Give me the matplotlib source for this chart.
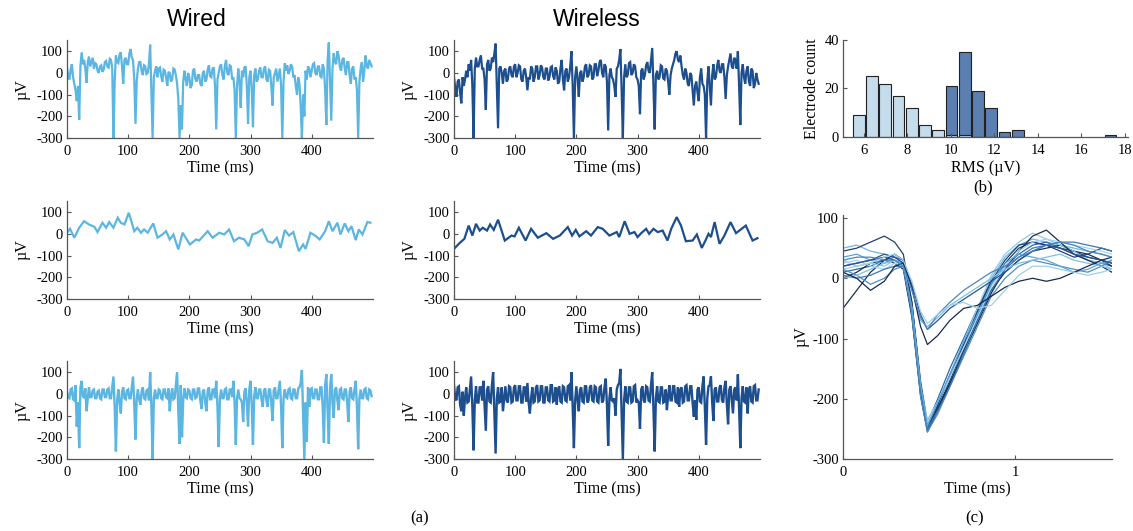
import matplotlib
matplotlib.use('Agg')
import matplotlib.pyplot as plt
import numpy as np

plt.rcParams['font.family'] = ['Liberation Serif', 'DejaVu Serif']
plt.rcParams['font.size'] = 10.5
plt.rcParams['axes.unicode_minus'] = False

# time grid of the 500 ms traces (2 ms per point)
t_raw = np.arange(0, 500, 2)

# raw traces (row 1)
wired_raw = [25, -10, -30, 15, 40, -20, -50, -80, -130, -60, -215, 30, 95, 40, 60, 20, -45, 50, 75, 30,
             50, 70, 20, 45, 40, 10, 0, 30, 35, 5, 15, 50, 55, 30, 25, 65, 60, 20, -300, -40,
             80, 50, 45, 85, 95, 30, -50, 60, 70, 40, 40, 90, 110, 70, 60, -30, -235, -40, 20, 50,
             50, 10, -10, 35, 30, -5, 0, 40, 130, -80, -300, -20, 10, 30, -20, 20, 25, -15, -40, 15,
             10, -20, -60, 5, 0, -40, -30, 20, 15, -10, -50, -120, -300, -150, -260, -40, 10, -30, -60, 0,
             -20, -70, -55, 10, 20, -30, -40, -10, -10, -50, -60, 0, 10, -40, -30, 15, 35, -15, -20, 20,
             25, -60, -260, -30, 0, 30, 40, -10, -30, 30, 60, 0, -10, 35, 30, -30, -20, -80, -300, -60,
             20, -40, -160, 10, -20, 25, 30, -60, -235, -20, 10, -70, -250, -10, 20, -40, -30, 10, 25, -20,
             -20, 20, 30, -30, -40, 15, 10, -60, -150, -20, 0, 20, -40, -10, 20, -60, -300, -40, 45, 10,
             35, -5, 10, 40, 30, -20, -10, -60, -100, -20, -50, -150, -300, -100, -200, 10, -30, 30, 20, -20,
             10, 40, 45, 0, -10, 30, 30, -15, -20, 40, 20, -80, -240, 60, 140, -40, -220, 20, 90, 50,
             40, 100, 80, 30, 10, 60, 70, 20, -10, 50, 50, -10, -50, 20, 30, -30, -20, -80, -300, -40,
             20, 50, -40, 10, 80, 30, 20, 60, 45, 30]
wireless_raw = [-20, -70, -110, -40, -30, -90, -140, -20, -60, -30, 10, -20, 40, 10, 60, -60, -300, 20, 70, 30,
                30, 60, 80, 20, 20, -30, -170, 40, 60, 10, 20, 70, 50, 90, 135, -60, -255, 20, 30, 0,
                -50, 10, 20, -40, -30, 20, 30, -10, -20, 30, 40, -20, 0, 35, 30, -30, -40, 10, 20, -20,
                -80, -20, -30, 30, 20, -40, -20, 30, 30, -30, -10, 35, 25, -20, -30, 20, 20, -35, -20, 25,
                30, -15, -30, 25, 10, -50, -40, 20, 60, -30, -80, 10, 20, -40, -20, 30, 100, -60, -300, -20,
                30, -30, -110, 0, 10, -40, -20, 30, 40, -20, -10, 35, 30, -30, -20, 40, 40, -15, 10, 50,
                60, 0, -20, 40, 30, -40, -265, -10, 20, -20, -30, -60, -110, 20, 30, 60, 110, -80, -300, -20,
                40, -20, -10, 45, 50, -10, 0, 40, 30, -20, -30, -60, -190, 10, 20, -30, -10, 35, 50, 10,
                0, 60, 115, -60, -260, -10, 10, -30, -20, 35, 30, -25, -30, 20, 10, -40, -100, -10, 20, 40,
                60, 90, 100, 60, 50, 80, 30, -10, -30, 20, 0, -50, -60, 0, -10, -80, -150, -60, -40, -90,
                -130, -20, 20, -50, -60, -100, -300, -40, 30, -60, -150, -10, 40, -30, -20, 30, 60, 10, 0, 40,
                40, -20, -120, -10, 30, 60, 90, 30, 20, 70, 60, 20, 100, -60, -240, 0, 40, -20, -50, 10,
                30, -40, -60, 20, 10, -70, -50, 0, -30, -50]

# low-pass traces (row 2), read at irregular times
t_lfp_wired = [0, 5, 12, 20, 28, 36, 45, 50, 58, 64, 69, 76, 83, 88, 94, 101, 106, 110,
               115, 121, 126, 132, 141, 148, 156, 162, 168, 174, 182, 189, 201, 211, 216,
               230, 238, 249, 257, 265, 273, 281, 290, 297, 303, 311, 319, 328, 336, 343,
               349, 356, 363, 370, 379, 386, 390, 398, 407, 413, 422, 428, 434, 442, 447,
               454, 460, 465, 472, 477, 483, 491, 496]
lfp_wired = [5, 23, -18, 28, 58, 43, 32, 8, 51, 28, 54, 28, 74, 51, 43, 97, 51, 12,
             28, 5, 20, 5, 48, -18, -3, 12, -26, -3, -72, 5, -49, -26, -31,
             12, -18, 5, -3, 20, -34, -18, -26, -57, -3, 5, 20, -34, -42, -18,
             -65, 17, -8, 8, -80, -49, -69, 5, -11, -26, 12, 58, 12, 51, -3,
             48, 12, 35, -29, 20, -3, 54, 51]
t_lfp_wireless = [0, 9, 17, 24, 30, 36, 42, 47, 54, 59, 65, 72, 83, 94, 99, 106, 117, 126,
                  137, 151, 162, 173, 186, 193, 199, 205, 216, 224, 235, 243, 254, 266, 270,
                  279, 287, 295, 300, 306, 314, 319, 326, 333, 341, 349, 355, 364, 371, 379,
                  390, 397, 405, 411, 416, 420, 426, 434, 442, 452, 461, 477, 488, 496]
lfp_wireless = [-69, -43, -23, 38, -8, 46, 15, 28, 15, 43, 18, 65, -31, -8, -12, 28, -31, 23,
                -18, 3, -23, -8, 31, -8, 18, -12, 12, -8, 31, 23, -8, 8, -15,
                58, 0, 8, -15, 3, 23, 0, 23, 8, 15, -31, 23, 77, 38, -34,
                -31, -3, -65, -31, 0, -15, 54, -46, -8, 54, 3, 38, -31, -20]

# high-pass traces (row 3)
wired_hp = [10, -15, -20, 20, 25, -25, -30, 40, -150, -40, -250, 30, 60, -10, -20, 25, -80, -20, 30, -15,
            -15, 15, 20, -20, -20, 10, 15, -20, -25, 20, 20, -15, -15, 20, 25, -20, -20, 30, 80, -60,
            -265, -30, 20, -40, -90, 10, 30, -20, -25, 15, 20, -20, -20, 30, 80, -50, -210, -20, 20, -25,
            -50, 10, 30, -20, -25, 15, 20, -30, 100, -60, -300, -20, 20, -20, -20, 20, 15, -20, -25, 20,
            20, -15, -20, 25, -80, -10, 25, -25, -20, 40, 100, -80, -230, 40, -200, -30, 25, -15, -20, 20,
            15, -20, -25, 20, 20, -20, -15, 25, 25, -30, -70, 10, 20, -40, -80, 15, 30, -25, -25, 20,
            20, -20, 60, -60, -245, -20, 20, -20, -20, 20, 25, -25, -25, 20, 20, -15, 60, -40, -235, -20,
            20, -20, -25, -40, -130, 10, 25, -40, -150, 20, 60, -50, -235, -10, 30, -20, -20, 20, 20, -25,
            -60, 15, 25, -30, -60, 20, 20, -40, -125, 15, 30, -20, -20, 20, 60, -60, -250, -20, 20, -15,
            -20, 20, 25, -20, -25, 20, 20, -20, -20, 25, 30, 50, 110, -100, -300, -40, -220, 30, -60, 20,
            25, -20, -20, 20, 20, -25, -25, 30, 30, -60, -225, 40, 90, -80, -230, 30, 90, -40, -110, 20,
            30, -30, -75, 20, 25, -20, -25, 20, 20, -40, -130, 10, 30, -20, -25, 20, 60, -60, -255, -20,
            20, -20, -20, 20, 25, -20, -25, 20, 15, -10]
wireless_hp = [40, -20, -30, 30, 35, -50, -80, 10, -100, -20, 30, -40, -35, 20, 80, -60, -260, -30, 35, -40,
               -40, 30, 30, -30, 60, -50, -170, 20, 35, -35, -40, 40, 100, -80, -275, -20, 30, -40, -35, 30,
               -80, -20, 35, -30, -40, 35, 30, -40, -35, 30, 40, -30, -30, 35, 35, -40, -40, 30, 30, -35,
               50, -40, -90, -20, 30, -40, -35, 30, 40, -35, -30, 35, 35, -40, -40, 30, 30, -30, -35, 40,
               40, -35, -30, 30, -50, 20, 35, -35, -40, 35, 30, -30, -35, 35, 40, -30, 100, -60, -250, -30,
               35, -30, -80, 20, 30, -35, -40, 35, 35, -40, -30, 30, 40, -30, -35, 35, 30, -35, -40, 30,
               35, -40, -30, 30, 70, -50, -240, -20, 30, -30, -35, -20, -100, 20, 40, 50, 115, -90, -300, -30,
               35, -35, -40, 30, 30, -40, -35, 35, 40, -40, -30, -40, -160, 20, 35, -30, -40, 35, 30, -30,
               -35, 40, 100, -70, -265, -20, 35, -35, -40, 30, 30, -40, -35, 20, -75, -10, 40, -30, -30, 35,
               35, -35, -40, 30, -60, 20, 30, -40, -35, 35, 40, -30, -30, 35, 35, -40, -105, -30, -120, 20,
               30, -35, -40, 35, 80, -60, -235, -20, 35, 40, 80, -40, -125, 20, 30, -35, -35, 30, 40, -30,
               -40, 30, 60, -50, -140, 20, 35, -30, -90, 20, 30, -30, 90, -70, -250, -20, 35, -35, -40, 30,
               -90, 20, 35, -35, -40, 35, 40, -30, -30, 20]

for arr in (wired_raw, wireless_raw, wired_hp, wireless_hp):
    assert len(arr) == len(t_raw), len(arr)

# RMS histogram (b)
rms_bins = [5.77, 6.37, 6.98, 7.59, 8.2, 8.81, 9.42, 10.03, 10.64, 11.25, 11.86,
            12.47, 13.08, 17.35]
count_wired = [9, 25, 22, 17, 12, 5, 3, 1, 1, 0, 0, 0, 0, 0]
count_wireless = [0, 0, 0, 0, 0, 0, 0, 21, 35, 19, 12, 2, 3, 1]

# spike waveforms (c)
t_wf = [0, 0.08, 0.16, 0.24, 0.30, 0.35, 0.40, 0.45, 0.49, 0.55, 0.62, 0.70,
        0.78, 0.86, 0.94, 1.02, 1.10, 1.18, 1.26, 1.34, 1.42, 1.50, 1.56]
waveforms = [
    [20, 25, 30, 35, 30, 20, -60, -190, -250, -215, -170, -115, -60, -10, 25, 50, 60, 55, 50, 45, 35, 30, 25],
    [50, 55, 45, 40, 35, 25, -50, -180, -245, -210, -165, -110, -55, 0, 35, 55, 65, 60, 55, 50, 45, 40, 35],
    [10, 15, 20, 30, 35, 30, -40, -170, -240, -200, -150, -100, -50, -5, 20, 40, 55, 60, 50, 40, 30, 25, 20],
    [0, 10, 25, 30, 25, 15, -65, -195, -255, -220, -175, -120, -70, -20, 10, 30, 45, 50, 55, 45, 40, 30, 20],
    [30, 20, 25, 20, 30, 25, -55, -185, -235, -205, -160, -105, -50, 5, 40, 60, 75, 65, 55, 45, 30, 25, 15],
    [-50, -20, 10, 30, 40, 30, -45, -175, -245, -215, -175, -125, -75, -25, 15, 45, 70, 80, 60, 40, 30, 20, 10],
    [45, 50, 60, 70, 60, 40, -40, -180, -250, -210, -160, -110, -55, -5, 30, 55, 60, 55, 45, 35, 40, 50, 45],
    [15, 5, -10, 0, 15, 20, -60, -195, -255, -225, -180, -130, -80, -30, 0, 20, 30, 25, 20, 15, 10, 20, 30],
    [25, 30, 20, 15, 25, 20, -50, -180, -240, -205, -165, -115, -65, -15, 20, 45, 60, 65, 60, 55, 50, 45, 40],
    [5, 0, 5, 15, 20, 20, -55, -185, -250, -220, -180, -125, -70, -20, 15, 35, 50, 55, 60, 60, 55, 50, 45],
    [35, 40, 30, 25, 30, 25, -50, -175, -245, -205, -160, -105, -60, -10, 25, 40, 35, 30, 20, 10, 15, 25, 30],
    [20, 25, 30, 40, 35, 25, -10, -60, -85, -70, -50, -35, -20, -5, 10, 30, 45, 55, 50, 40, 35, 30, 25],
    [0, 5, 15, 25, 30, 20, -20, -70, -80, -65, -45, -30, -15, 0, 15, 25, 30, 35, 40, 30, 25, 20, 15],
    [10, 0, -20, -5, 20, 25, -15, -80, -110, -95, -70, -50, -45, -30, -15, -5, 0, -5, 0, 10, 20, 30, 35],
    [30, 35, 35, 30, 30, 20, -20, -65, -85, -60, -40, -20, -5, 10, 20, 35, 45, 55, 60, 55, 45, 40, 35],
    [15, 20, 25, 35, 40, 30, -5, -55, -75, -60, -45, -40, -50, -45, -20, 5, 20, 20, 15, 10, 5, 10, 15],
]
wf_colors = ['#1f3f73', '#6db7e0', '#2f6aa8', '#15305e', '#8fcbea', '#1b2d52', '#243f6e',
             '#4d8fc7', '#a3d4ee', '#3a78b8', '#5aa6d8', '#2a5590', '#7dbfe5', '#182a4e',
             '#4b86c0', '#9dcfe8']

WIRED = '#5bb6e2'
WIRELESS = '#1d4f8f'
SPINE = '#555555'

fig = plt.figure(figsize=(11.33, 5.31), dpi=100)


def style(ax):
    for s in ['top', 'right']:
        ax.spines[s].set_visible(False)
    for s in ['left', 'bottom']:
        ax.spines[s].set_color(SPINE)
        ax.spines[s].set_linewidth(0.9)
    ax.tick_params(direction='in', length=3, width=0.8, color=SPINE)
    ax.tick_params(axis='x', pad=5)
    ax.tick_params(axis='y', pad=3)


def trace_axes(rect, x, y, color, lw):
    ax = fig.add_axes(rect)
    ax.plot(x, y, color=color, lw=lw, solid_joinstyle='miter')
    ax.set_xlim(0, 500)
    ax.set_ylim(-300, 150)
    ax.set_xticks([0, 100, 200, 300, 400])
    ax.set_yticks([-300, -200, -100, 0, 100])
    ax.set_xlabel('Time (ms)', labelpad=2, fontsize=11.5)
    ax.set_ylabel('µV', labelpad=4, fontsize=11.5)
    style(ax)
    return ax


col_x = [0.0591, 0.4007]
row_y = [0.740, 0.437, 0.1356]
w, h = 0.270, 0.184

trace_axes([col_x[0], row_y[0], w, h], t_raw, wired_raw, WIRED, 1.6)
trace_axes([col_x[1], row_y[0], w, h], t_raw, wireless_raw, WIRELESS, 1.6)
trace_axes([col_x[0], row_y[1], w, h], t_lfp_wired, lfp_wired, WIRED, 1.6)
trace_axes([col_x[1], row_y[1], w, h], t_lfp_wireless, lfp_wireless, WIRELESS, 1.6)
trace_axes([col_x[0], row_y[2], w, h], t_raw, wired_hp, WIRED, 1.7)
trace_axes([col_x[1], row_y[2], w, h], t_raw, wireless_hp, WIRELESS, 1.7)

fig.text(197 / 1133, 1 - 20 / 531, 'Wired', ha='center', va='center',
         fontsize=16.5, family='Liberation Sans')
fig.text(597 / 1133, 1 - 20 / 531, 'Wireless', ha='center', va='center',
         fontsize=16.5, family='Liberation Sans')

# histogram (b)
axb = fig.add_axes([0.744, 0.742, 0.2515, 0.1827])
axb.bar(rms_bins, count_wireless, width=0.54, color='#5a7fb0', edgecolor='#222222', lw=0.8)
axb.bar(rms_bins, count_wired, width=0.54, color='#c4dcec', edgecolor='#222222', lw=0.8)
axb.set_xlim(5.03, 18.15)
axb.set_ylim(0, 40)
axb.set_xticks([6, 8, 10, 12, 14, 16, 18])
axb.set_yticks([0, 20, 40])
axb.set_xlabel('RMS (µV)', labelpad=2, fontsize=11.5)
axb.set_ylabel('Electrode count', labelpad=3, fontsize=11.5)
style(axb)

# spike waveforms (c)
axc = fig.add_axes([0.744, 0.1356, 0.2374, 0.4595])
for wf, c in zip(waveforms, wf_colors):
    axc.plot(t_wf, wf, color=c, lw=0.9)
axc.set_xlim(0, 1.56)
axc.set_ylim(-300, 105)
axc.set_xticks([0, 1])
axc.set_yticks([-300, -200, -100, 0, 100])
axc.set_xlabel('Time (ms)', labelpad=2, fontsize=11.5)
axc.set_ylabel('µV', labelpad=2, fontsize=11.5)
style(axc)

fig.text(420 / 1133, 1 - 518 / 531, '(a)', ha='center', va='center', fontsize=12)
fig.text(983 / 1133, 1 - 187 / 531, '(b)', ha='center', va='center', fontsize=12)
fig.text(975 / 1133, 1 - 518 / 531, '(c)', ha='center', va='center', fontsize=12)

fig.savefig('out.png', dpi=100)
